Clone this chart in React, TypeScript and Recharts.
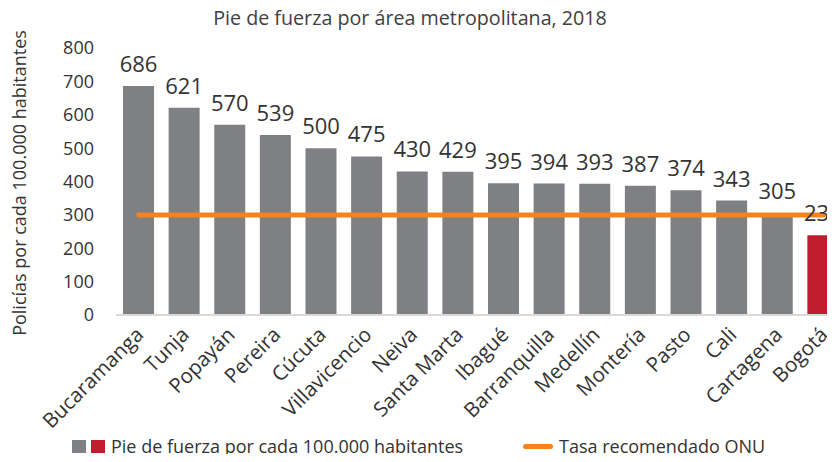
import React from 'react';
import { ComposedChart, Bar, Cell, XAxis, YAxis, LabelList, ReferenceLine } from 'recharts';

const categories = [
  'Bucaramanga', 'Tunja', 'Popayán', 'Pereira', 'Cúcuta', 'Villavicencio', 'Neiva', 'Santa Marta',
  'Ibagué', 'Barranquilla', 'Medellín', 'Montería', 'Pasto', 'Cali', 'Cartagena', 'Bogotá',
];
const policeRate = [686, 621, 570, 539, 500, 475, 430, 429, 395, 394, 393, 387, 374, 343, 305, 239];
const yTicks = [0, 100, 200, 300, 400, 500, 600, 700, 800];
const onuRate = 300;
const highlighted = 'Bogotá';

const data = categories.map((name, i) => ({ name, value: policeRate[i] }));

const FONT = '"Open Sans", sans-serif';
const GRAY = '#7f8083';
const RED = '#be1e2d';
const ORANGE = '#f5821f';
const TEXT = '#333333';

const CityTick = ({ x, y, payload }: any) => {
  const tx = x + 6;
  const ty = y + 13;
  return (
    <text
      x={tx}
      y={ty}
      transform={`rotate(-45, ${tx}, ${ty})`}
      textAnchor="end"
      fontSize={20.5}
      fill={TEXT}
      fontFamily={FONT}
    >
      {payload.value}
    </text>
  );
};

const AxisTitle = () => (
  <text
    x={26}
    y={183}
    transform="rotate(-90, 26, 183)"
    textAnchor="middle"
    fontSize={18}
    fill={TEXT}
    fontFamily={FONT}
  >
    Policías por cada 100.000 habitantes
  </text>
);

export default function App() {
  return (
    <div
      style={{
        position: 'relative',
        width: 835,
        height: 462,
        margin: -8,
        overflow: 'hidden',
        background: '#fff',
        fontFamily: FONT,
        color: TEXT,
      }}
    >
      <div
        style={{
          position: 'absolute',
          top: 4,
          left: 0,
          width: 820,
          textAlign: 'center',
          fontSize: 19.7,
          color: '#404040',
        }}
      >
        Pie de fuerza por área metropolitana, 2018
      </div>

      <ComposedChart
        width={846}
        height={432}
        data={data}
        margin={{ top: 48, right: 0, left: 0, bottom: 0 }}
      >
        <XAxis
          dataKey="name"
          interval={0}
          height={117}
          tick={<CityTick />}
          tickLine={false}
          axisLine={{ stroke: '#d9d9d9', strokeWidth: 2 }}
        />
        <YAxis
          width={116}
          domain={[0, 800]}
          ticks={yTicks}
          axisLine={false}
          tickLine={false}
          tickSize={0}
          tickMargin={22}
          tick={{ fontSize: 18, fill: TEXT, fontFamily: FONT }}
          label={{ content: () => <AxisTitle /> }}
        />
        <Bar dataKey="value" barSize={31} isAnimationActive={false}>
          {data.map((d) => (
            <Cell key={d.name} fill={d.name === highlighted ? RED : GRAY} />
          ))}
          <LabelList
            dataKey="value"
            position="top"
            offset={14}
            fontSize={22}
            fill={TEXT}
            fontFamily={FONT}
          />
        </Bar>
        <ReferenceLine
          segment={[
            { x: categories[0], y: onuRate },
            { x: categories[categories.length - 1], y: onuRate },
          ]}
          stroke={ORANGE}
          strokeWidth={5}
          strokeLinecap="round"
        />
      </ComposedChart>

      <div
        style={{
          position: 'absolute',
          top: 434,
          left: 72,
          display: 'flex',
          alignItems: 'center',
          fontSize: 18,
          whiteSpace: 'nowrap',
        }}
      >
        <span style={{ width: 14, height: 13, background: GRAY, display: 'inline-block' }} />
        <span style={{ width: 14, height: 13, background: RED, display: 'inline-block', marginLeft: 5 }} />
        <span style={{ marginLeft: 6 }}>Pie de fuerza por cada 100.000 habitantes</span>
      </div>
      <div
        style={{
          position: 'absolute',
          top: 434,
          left: 523,
          display: 'flex',
          alignItems: 'center',
          fontSize: 18,
          whiteSpace: 'nowrap',
        }}
      >
        <span style={{ width: 30, height: 5, borderRadius: 3, background: ORANGE, display: 'inline-block' }} />
        <span style={{ marginLeft: 6 }}>Tasa recomendado ONU</span>
      </div>
    </div>
  );
}
